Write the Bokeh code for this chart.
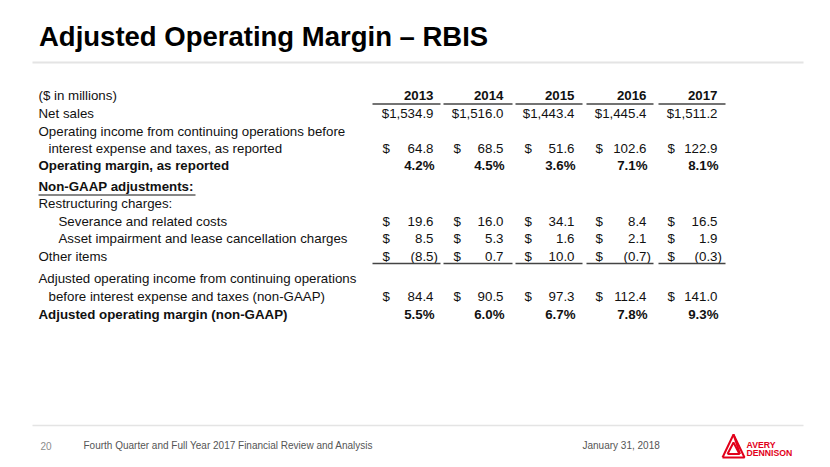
from bokeh.plotting import figure
from bokeh.models import Range1d
from bokeh.embed import file_html
from bokeh.resources import INLINE
from bokeh.core.properties import value

# ---------------- data ----------------
years = ["2013", "2014", "2015", "2016", "2017"]
net_sales = [1534.9, 1516.0, 1443.4, 1445.4, 1511.2]
op_income = [64.8, 68.5, 51.6, 102.6, 122.9]
op_margin = [4.2, 4.5, 3.6, 7.1, 8.1]
severance = [19.6, 16.0, 34.1, 8.4, 16.5]
asset_impairment = [8.5, 5.3, 1.6, 2.1, 1.9]
other_items = [-8.5, 0.7, 10.0, -0.7, -0.3]
adj_op_income = [84.4, 90.5, 97.3, 112.4, 141.0]
adj_op_margin = [5.5, 6.0, 6.7, 7.8, 9.3]

title = "Adjusted Operating Margin \u2013 RBIS"
footer_page = "20"
footer_text = "Fourth Quarter and Full Year 2017 Financial Review and Analysis"
footer_date = "January 31, 2018"

# ---------------- layout ----------------
FONT = "Liberation Sans"
FS = "13.3px"
col_right = [433, 503, 574, 646, 717]
dollar_left = [382, 453, 524, 595, 667]
seg_x0 = [372, 443, 515, 586, 658]
seg_x1 = [440, 512, 582, 653, 725]

p = figure(width=830, height=467, x_range=Range1d(0, 830), y_range=Range1d(467, 0),
           output_backend="svg", toolbar_location=None, x_axis_type=None, y_axis_type=None,
           min_border=0, min_border_left=0, min_border_right=0, min_border_top=0, min_border_bottom=0)
p.grid.visible = False
p.outline_line_color = None
p.background_fill_color = "white"
p.border_fill_color = "white"


def txt(xs, ys, texts, size=FS, bold=False, align="left", color="#111111"):
    p.text(x=xs, y=ys, text=texts, text_font=value(FONT), text_font_size=size,
           text_font_style="bold" if bold else "normal", text_align=align,
           text_baseline="middle", text_color=color)


def fmt(v):
    return f"({abs(v):.1f})" if v < 0 else f"{v:.1f}"


# title
txt([38.5], [35.5], [title], size="27.5px", bold=True, color="#000000")
p.segment(x0=[32], y0=[62], x1=[803], y1=[62], line_color="#e4e4e4", line_width=2)

# header
txt([38], [95], ["($ in millions)"])
txt(col_right, [95] * 5, years, bold=True, align="right")
p.segment(x0=seg_x0, y0=[103.5] * 5, x1=seg_x1, y1=[103.5] * 5, line_color="#444444", line_width=1.5)

# labels
labels = [
    (38, 113, "Net sales", False),
    (38, 131, "Operating income from continuing operations before", False),
    (48, 148, "interest expense and taxes, as reported", False),
    (38, 164.5, "Operating margin, as reported", True),
    (38, 186, "Non-GAAP adjustments:", True),
    (38, 203, "Restructuring charges:", False),
    (58, 221, "Severance and related costs", False),
    (58, 238, "Asset impairment and lease cancellation charges", False),
    (38, 255.5, "Other items", False),
    (38, 278, "Adjusted operating income from continuing operations", False),
    (48, 296, "before interest expense and taxes (non-GAAP)", False),
    (38, 313.5, "Adjusted operating margin (non-GAAP)", True),
]
for lx, ly, lt, lb in labels:
    txt([lx], [ly], [lt], bold=lb)
p.segment(x0=[38], y0=[194.5], x1=[195], y1=[194.5], line_color="#111111", line_width=1.2)

# net sales
txt(col_right, [113] * 5, [f"${v:,.1f}" for v in net_sales], align="right")


def dollar_row(vals, y):
    txt(dollar_left, [y] * 5, ["$"] * 5)
    xs = [r + (4.4 if v < 0 else 0) for r, v in zip(col_right, vals)]
    txt(xs, [y] * 5, [fmt(v) for v in vals], align="right")


dollar_row(op_income, 148)
txt([r + 1 for r in col_right], [164.5] * 5, [f"{v:.1f}%" for v in op_margin], bold=True, align="right")
dollar_row(severance, 221)
dollar_row(asset_impairment, 238)
dollar_row(other_items, 255.5)
p.segment(x0=seg_x0, y0=[263] * 5, x1=seg_x1, y1=[263] * 5, line_color="#444444", line_width=1.5)
dollar_row(adj_op_income, 296)
txt([r + 1 for r in col_right], [313.5] * 5, [f"{v:.1f}%" for v in adj_op_margin], bold=True, align="right")

# footer
p.segment(x0=[32], y0=[425], x1=[803], y1=[425], line_color="#e4e4e4", line_width=1.5)
txt([40], [445], [footer_page], size="10px", color="#8c8c8c")
txt([83], [445], [footer_text], size="10px", color="#555555")
txt([582], [445], [footer_date], size="10px", color="#555555")

# logo
RED = "#e2001a"
p.multi_line(xs=[[722, 733, 744, 722], [727, 733, 739, 727], [733, 739.5]],
             ys=[[457, 434, 457, 457], [453.5, 442, 453.5, 453.5], [434, 453.5]],
             line_color=RED, line_width=2)
txt([746], [444.5], ["AVERY"], size="8.7px", bold=True, color=RED)
txt([746], [452.5], ["DENNISON"], size="8.7px", bold=True, color=RED)

open("out.html", "w").write(file_html(p, INLINE))
